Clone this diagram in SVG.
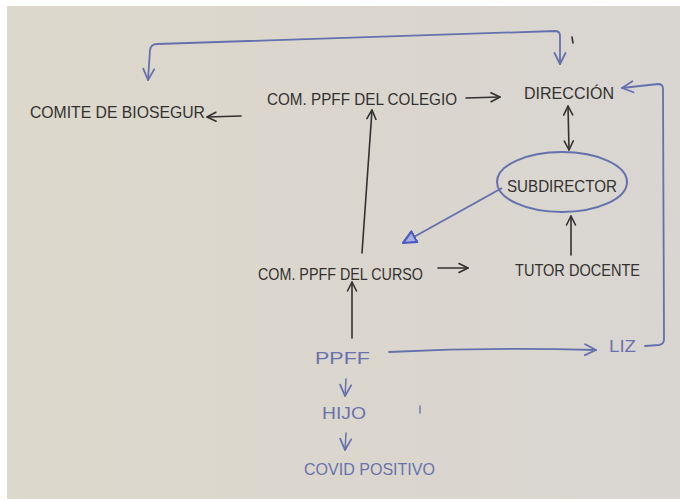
<svg xmlns="http://www.w3.org/2000/svg" width="680" height="503" viewBox="0 0 680 503">
<defs>
<linearGradient id="bg" x1="0" y1="0" x2="1" y2="0">
<stop offset="0" stop-color="#dcd8cb"/>
<stop offset="1" stop-color="#d9d5d1"/>
</linearGradient>
<marker id="ak" viewBox="0 0 12 12" refX="11" refY="6" markerWidth="12" markerHeight="12" orient="auto-start-reverse" markerUnits="userSpaceOnUse">
<path d="M2,1.5 L11,6 L2,10.5" fill="none" stroke="#333130" stroke-width="1.6" stroke-linecap="round" stroke-linejoin="round"/>
</marker>
<marker id="ab" viewBox="0 0 14 14" refX="13" refY="7" markerWidth="14" markerHeight="14" orient="auto-start-reverse" markerUnits="userSpaceOnUse">
<path d="M2,1.5 L13,7 L2,12.5" fill="none" stroke="#6570ad" stroke-width="1.8" stroke-linecap="round" stroke-linejoin="round"/>
</marker>
<marker id="tri" viewBox="0 0 16 16" refX="14" refY="8" markerWidth="16" markerHeight="16" orient="auto" markerUnits="userSpaceOnUse">
<path d="M1,2 L14,8 L1,14 Z" fill="#a9b0dd" stroke="#4a5ac0" stroke-width="2.2" stroke-linejoin="round"/>
</marker>
<style>
.k{font-family:"Liberation Sans",Arial,sans-serif;font-size:17px;fill:#333130}
.b{font-family:"Liberation Sans",Arial,sans-serif;font-size:17px;fill:#6a72ad}
.lk{fill:none;stroke:#333130;stroke-width:1.6;stroke-linecap:round;marker-end:url(#ak)}
.lb{fill:none;stroke:#6570ad;stroke-width:1.8;stroke-linecap:round;marker-end:url(#ab)}
</style>
</defs>
<rect width="680" height="503" fill="#ffffff"/>
<rect x="7" y="6" width="673" height="493" fill="url(#bg)"/>

<g id="connectors">
<path class="lb" d="M148,80 L150,50 Q151,44 157,44 L555,31 Q560,31 560,36 L560,64" marker-start="url(#ab)"/>
<path class="lk" d="M241,116 L207,117"/>
<path class="lk" d="M466,98 L500,97"/>
<path class="lb" d="M645,346 L659,345 Q664,344 664,339 L663,89 Q663,84 658,84 L622,88"/>
<path class="lk" d="M568,106 L569,150" marker-start="url(#ak)"/>
<path d="M502,188 L403,243" fill="none" stroke="#6570ad" stroke-width="2" marker-end="url(#tri)"/>
<path class="lk" d="M362,253 L372,110"/>
<path class="lk" d="M438,268 L468,268"/>
<path class="lk" d="M571,255 L571,216"/>
<path class="lk" d="M352,338 L352,282"/>
<path class="lb" d="M389,352 Q490,347 596,350"/>
<path class="lb" d="M346,379 L345,396" style="stroke-width:1.5"/>
<path class="lb" d="M346,433 L345,450" style="stroke-width:1.5"/>
<path d="M572,37 L573,43" stroke="#333130" stroke-width="1.6" stroke-linecap="round"/>
<path d="M420,406 L420,413" stroke="#6a72ad" stroke-width="1.4" stroke-linecap="round"/>
</g>

<g id="comite"><text class="k" x="30" y="118" textLength="175" lengthAdjust="spacingAndGlyphs">COMITE DE BIOSEGUR</text></g>
<g id="com-colegio"><text class="k" x="267" y="105" textLength="190" lengthAdjust="spacingAndGlyphs">COM. PPFF DEL COLEGIO</text></g>
<g id="direccion"><text class="k" x="524" y="99" textLength="90" lengthAdjust="spacingAndGlyphs">DIRECCIÓN</text></g>
<g id="subdirector">
<ellipse cx="562" cy="182" rx="65" ry="30" fill="none" stroke="#6570ad" stroke-width="2"/>
<text class="k" x="507" y="192" textLength="110" lengthAdjust="spacingAndGlyphs">SUBDIRECTOR</text>
</g>
<g id="com-curso"><text class="k" x="258" y="280" textLength="165" lengthAdjust="spacingAndGlyphs">COM. PPFF DEL CURSO</text></g>
<g id="tutor"><text class="k" x="515" y="276" textLength="125" lengthAdjust="spacingAndGlyphs">TUTOR DOCENTE</text></g>
<g id="ppff"><text class="b" x="315" y="364" textLength="55" lengthAdjust="spacingAndGlyphs">PPFF</text></g>
<g id="liz"><text class="b" x="609" y="352" textLength="27" lengthAdjust="spacingAndGlyphs">LIZ</text></g>
<g id="hijo"><text class="b" x="322" y="419" textLength="44" lengthAdjust="spacingAndGlyphs">HIJO</text></g>
<g id="covid"><text class="b" x="304" y="475" textLength="131" lengthAdjust="spacingAndGlyphs">COVID POSITIVO</text></g>
</svg>
